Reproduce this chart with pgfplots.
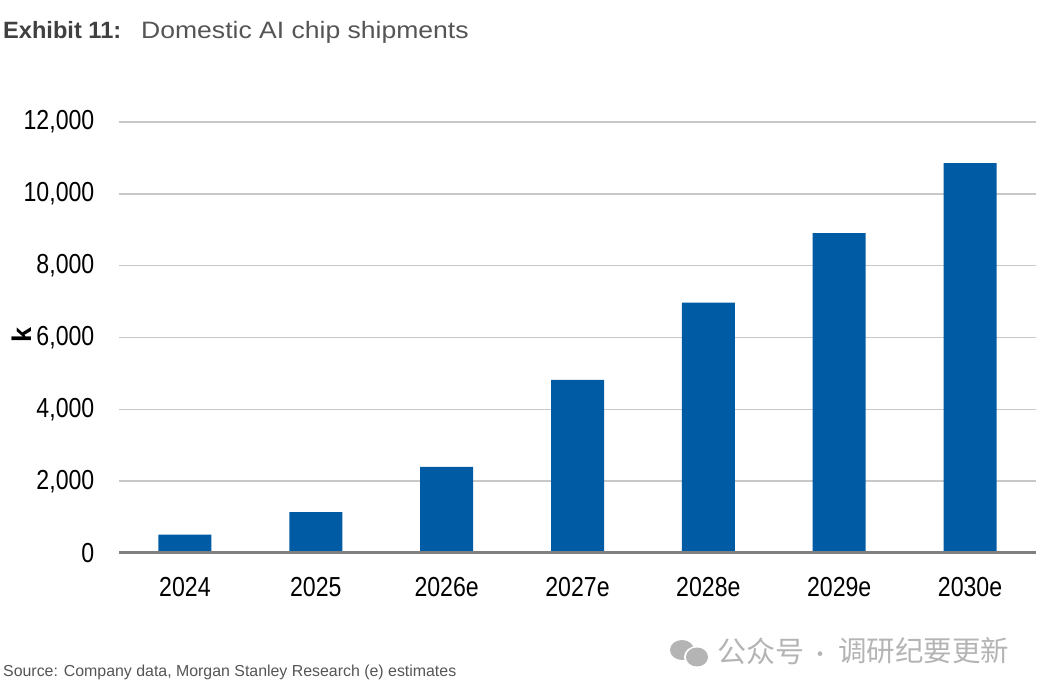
\documentclass[border=0pt]{standalone}
\usepackage{fontspec}
\setmainfont{Liberation Sans}
\newfontfamily\condfont[FakeStretch=0.84]{Liberation Sans}
\newfontfamily\titlefont[FakeStretch=1.12]{Liberation Sans}
\newfontfamily\cjk{Noto Sans CJK SC}
\usepackage{pgfplots}
\pgfplotsset{compat=1.18}
\definecolor{barblue}{RGB}{0,91,165}
\definecolor{gridgray}{RGB}{200,200,200}
\definecolor{axisgray}{RGB}{128,128,128}
\definecolor{titlegray}{RGB}{64,64,64}
\definecolor{textgray}{RGB}{85,85,85}
\definecolor{wmgray}{RGB}{180,180,180}
\begin{document}
\begin{tikzpicture}[x=1pt,y=1pt]
\path[use as bounding box] (0,0) rectangle (1041,693);
\begin{axis}[
  at={(119.5pt,140pt)}, anchor=south west,
  scale only axis, width=916pt, height=431pt,
  xmin=-0.5, xmax=6.5, ymin=0, ymax=12000,
  ytick={0,2000,4000,6000,8000,10000,12000},
  xtick={0,1,2,3,4,5,6},
  xticklabels={2024,2025,2026e,2027e,2028e,2029e,2030e},
  ymajorgrids, grid style={draw=gridgray, line width=1.5pt},
  axis line style={draw=none},
  major tick length=0pt,
  tick label style={font=\condfont\fontsize{27.5}{30}\selectfont, text=black},
  yticklabel style={anchor=east, inner sep=0pt, xshift=-25pt},
  xticklabel style={anchor=north, inner sep=0pt, yshift=-24pt},
  scaled y ticks=false,
  /pgf/number format/1000 sep={,},
  /pgf/number format/assume math mode=true,
  clip=false,
]
\addplot[ybar, bar width=53pt, fill=barblue, draw=none] coordinates {
  (0,510) (1,1140) (2,2395) (3,4820) (4,6970) (5,8905) (6,10855)
};
\draw[axisgray, line width=3pt] (rel axis cs:0,0) -- (rel axis cs:1,0);
\end{axis}
\node[anchor=base west, inner sep=0pt, text=titlegray, font=\bfseries\fontsize{23.6}{26}\selectfont] at (3,654.7) {Exhibit 11:};
\node[anchor=base west, inner sep=0pt, text=textgray, font=\titlefont\fontsize{23.7}{26}\selectfont] at (141,654.7) {Domestic AI chip shipments};
\node[rotate=90, inner sep=0pt, font=\bfseries\fontsize{27}{30}\selectfont] at (21.7,357.7) {k};
\node[anchor=base west, inner sep=0pt, text=textgray, font=\fontsize{15.9}{18}\selectfont] at (3,16.3) {Source: Company data, Morgan Stanley Research (e) estimates};
\fill[wmgray] (682,43) ellipse (12 and 10);
\fill[white] (697,36) ellipse (13 and 11);
\fill[wmgray] (697,36) ellipse (11 and 9.5);
\node[anchor=west, inner sep=0pt, text=wmgray, font=\cjk\fontsize{29}{32}\selectfont] at (717,42) {公众号};
\node[inner sep=0pt, text=wmgray, font=\cjk\fontsize{22}{32}\selectfont] at (820,36) {·};
\node[anchor=west, inner sep=0pt, text=wmgray, font=\cjk\fontsize{28.5}{32}\selectfont] at (838,42) {调研纪要更新};
\end{tikzpicture}
\end{document}
